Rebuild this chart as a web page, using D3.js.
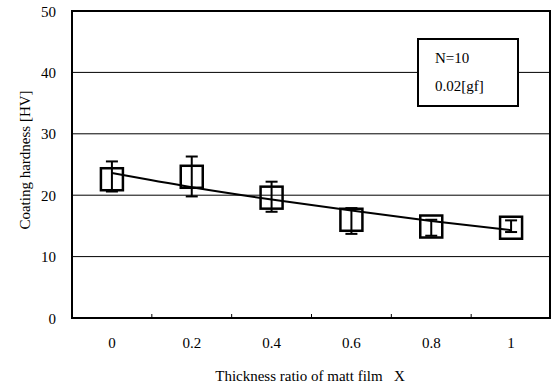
<!DOCTYPE html>
<html>
<head>
<meta charset="utf-8">
<script src="https://cdn.jsdelivr.net/npm/d3@7"></script>
<style>
  body { margin: 0; background: #fff; }
  svg { display: block; }
  text { font-family: "Liberation Serif", "Times New Roman", serif; }
</style>
</head>
<body>
<div id="chart"></div>
<script>
// thickness ratio categories
const categories = ["0", "0.2", "0.4", "0.6", "0.8", "1"];
// mean hardness and error bar ends
const meanHV  = [22.6, 23.0, 19.6, 16.0, 14.9, 14.7];
const upperHV = [25.5, 26.3, 22.2, 17.9, 16.0, 15.9];
const lowerHV = [20.6, 19.8, 17.3, 13.7, 13.4, 14.0];
// trend curve as drawn
const trendHV = [23.6, 21.3, 19.3, 17.5, 15.8, 14.3];
const yTicks = [0, 10, 20, 30, 40, 50];
const legendLines = ["N=10", "0.02[gf]"];

const width = 552, height = 387;
const margin = {top: 11, right: 1, bottom: 69, left: 72};

const svg = d3.select("#chart").append("svg")
    .attr("width", width)
    .attr("height", height);

const x = d3.scaleBand()
    .domain(categories)
    .range([margin.left, width - margin.right]);

const y = d3.scaleLinear()
    .domain([0, 50])
    .range([height - margin.bottom, margin.top]);

const cx = i => x(categories[i]) + x.bandwidth() / 2;

// grid lines
svg.append("g")
    .selectAll("line")
    .data(yTicks.slice(1, -1))
    .enter().append("line")
        .attr("x1", margin.left)
        .attr("x2", width - margin.right)
        .attr("y1", d => y(d))
        .attr("y2", d => y(d))
        .attr("stroke", "#000")
        .attr("stroke-width", 1);

// x axis: ticks at band boundaries pointing up
const xAxis = svg.append("g")
    .attr("transform", `translate(0,${y(0)})`);
xAxis.selectAll("line")
    .data(categories.slice(1))
    .enter().append("line")
        .attr("x1", d => x(d))
        .attr("x2", d => x(d))
        .attr("y1", 0)
        .attr("y2", -4)
        .attr("stroke", "#000");
xAxis.selectAll("text")
    .data(categories)
    .enter().append("text")
        .attr("x", d => x(d) + x.bandwidth() / 2)
        .attr("y", 30)
        .attr("text-anchor", "middle")
        .attr("font-size", 15)
        .text(d => d);

// y axis labels
svg.append("g")
    .selectAll("text")
    .data(yTicks)
    .enter().append("text")
        .attr("x", 56)
        .attr("y", d => y(d) + 5.5)
        .attr("text-anchor", "end")
        .attr("font-size", 15)
        .text(d => d);

// frame
svg.append("rect")
    .attr("x", margin.left)
    .attr("y", margin.top)
    .attr("width", width - margin.right - margin.left - 1)
    .attr("height", y(0) - margin.top)
    .attr("fill", "none")
    .attr("stroke", "#000")
    .attr("stroke-width", 2);

// trend line
const line = d3.line()
    .x((d, i) => cx(i))
    .y(d => y(d))
    .curve(d3.curveMonotoneX);

svg.append("path")
    .datum(trendHV)
    .attr("d", line)
    .attr("fill", "none")
    .attr("stroke", "#000")
    .attr("stroke-width", 2);

// error bars
const err = svg.append("g")
    .attr("stroke", "#000")
    .attr("stroke-width", 2);
categories.forEach((c, i) => {
    err.append("line")
        .attr("x1", cx(i)).attr("x2", cx(i))
        .attr("y1", y(upperHV[i])).attr("y2", y(lowerHV[i]));
    [upperHV[i], lowerHV[i]].forEach(v => {
        err.append("line")
            .attr("x1", cx(i) - 6).attr("x2", cx(i) + 6)
            .attr("y1", y(v)).attr("y2", y(v));
    });
});

// square markers
svg.append("g")
    .selectAll("rect")
    .data(meanHV)
    .enter().append("rect")
        .attr("x", (d, i) => cx(i) - 11)
        .attr("y", d => y(d) - 11)
        .attr("width", 22)
        .attr("height", 22)
        .attr("fill", "none")
        .attr("stroke", "#000")
        .attr("stroke-width", 2.5);

// legend box
const lg = svg.append("g").attr("transform", "translate(418,39)");
lg.append("rect")
    .attr("width", 100)
    .attr("height", 67)
    .attr("fill", "#fff")
    .attr("stroke", "#000")
    .attr("stroke-width", 2);
lg.selectAll("text")
    .data(legendLines)
    .enter().append("text")
        .attr("x", 17)
        .attr("y", (d, i) => 24 + i * 28)
        .attr("font-size", 15)
        .text(d => d);

// axis titles
svg.append("text")
    .attr("x", 310)
    .attr("y", 381)
    .attr("text-anchor", "middle")
    .attr("font-size", 15)
    .style("white-space", "pre")
    .text("Thickness ratio of matt film   X");

svg.append("text")
    .attr("transform", "translate(30,160) rotate(-90)")
    .attr("text-anchor", "middle")
    .attr("font-size", 15)
    .text("Coating hardness [HV]");
</script>
</body>
</html>
